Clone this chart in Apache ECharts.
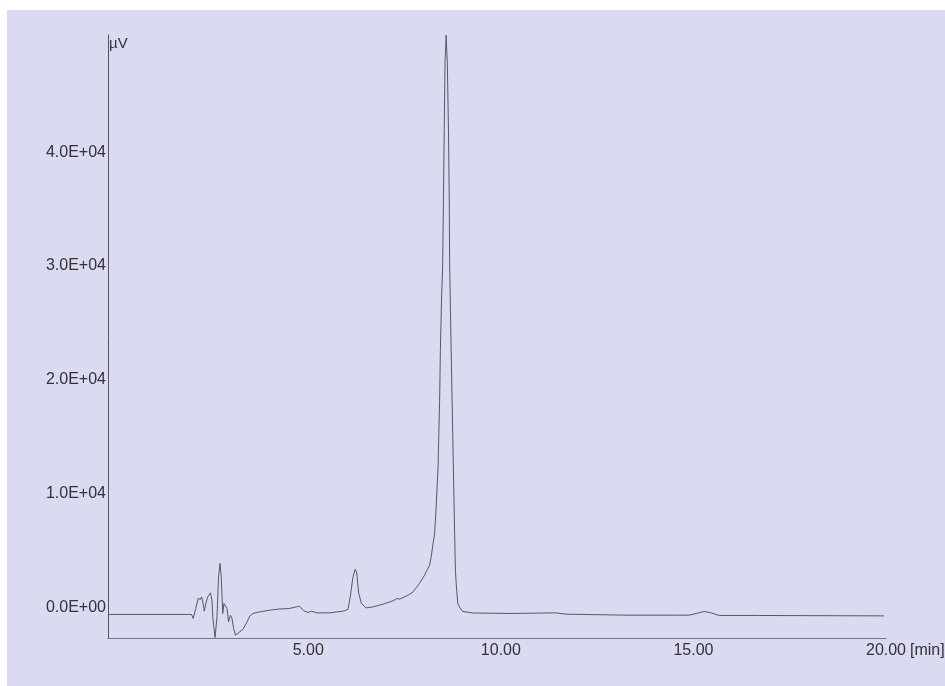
<!DOCTYPE html>
<html>
<head>
<meta charset="utf-8">
<script src="https://cdn.jsdelivr.net/npm/echarts@6/dist/echarts.min.js"></script>
<style>
html,body{margin:0;padding:0;background:#ffffff;width:945px;height:686px;overflow:hidden;}
#paper{position:absolute;left:7px;top:10px;right:0;bottom:0;background:#dadaf1;}
#chart{position:absolute;left:0;top:0;width:945px;height:686px;}
</style>
</head>
<body>
<div id="paper"></div>
<div id="chart"></div>
<script>
// Retention time [min]
const times = [
  -0.2, 1.97, 2.01, 2.08, 2.14, 2.16, 2.20, 2.23, 2.27, 2.30, 2.34, 2.39, 2.46, 2.50, 2.52, 2.58, 2.63, 2.67, 2.71, 2.74,
  2.78, 2.81, 2.85, 2.89, 2.93, 2.98, 3.02, 3.06, 3.11, 3.15, 3.22, 3.30, 3.39, 3.48, 3.56, 3.74, 4.00, 4.26, 4.51, 4.69,
  4.77, 4.88, 4.99, 5.09, 5.21, 5.55, 5.90, 6.03, 6.09, 6.16, 6.22, 6.26, 6.31, 6.38, 6.50, 6.68, 6.94, 7.20, 7.30, 7.32,
  7.37, 7.54, 7.71, 7.89, 8.02, 8.06, 8.15, 8.19, 8.28, 8.32, 8.37, 8.39, 8.41, 8.43, 8.46, 8.49, 8.51, 8.53, 8.55, 8.58,
  8.61, 8.64, 8.66, 8.67, 8.69, 8.70, 8.75, 8.80, 8.82, 8.84, 8.88, 8.93, 9.01, 9.06, 9.27, 10.22, 11.43, 11.69, 13.25, 14.46,
  14.89, 15.07, 15.28, 15.46, 15.67, 16.71, 19.95
];
// Detector signal [µV]
const signal = [
  -640, -640, -993, -114, 765, 905, 677, 905, 325, -352, 325, 905, 1257, 615, -853, -2664, -853, 2664, 3842, 2664,
  -554, 325, 466, -114, -1292, -703, -993, -1872, -2461, -2549, -2171, -1960, -1433, -791, -554, -413, -264, -160, -114, 26,
  88, -308, -466, -352, -501, -501, -352, -202, 905, 2664, 3341, 2963, 1204, 325, -62, 26, 264, 554, 765, 905,
  703, 967, 1292, 2110, 2813, 3103, 3692, 4422, 6479, 8817, 12334, 15270, 18197, 22593, 26988, 30241, 36043, 41933, 47823, 50285,
  47823, 41933, 36043, 30241, 26373, 24351, 15296, 6505, 3253, 2110, 352, 0, -378, -413, -510, -554, -501, -615, -703, -703,
  -703, -554, -378, -501, -730, -730, -765
];
const xTickValues = [5, 10, 15, 20];
const yTickValues = [0, 10000, 20000, 30000, 40000];
const yTickLabels = ['0.0E+00', '1.0E+04', '2.0E+04', '3.0E+04', '4.0E+04'];

const data = times.map((t, i) => [t, signal[i]]);

const chart = echarts.init(document.getElementById('chart'), null, {renderer: 'canvas'});
chart.setOption({
  backgroundColor: 'transparent',
  animation: false,
  grid: {left: 108, right: 59, top: 35, bottom: 48, containLabel: false},
  xAxis: {
    type: 'value', min: -0.2, max: 20,
    axisLine: {show: true, onZero: false, lineStyle: {color: '#6f7a80', width: 1.2}},
    axisTick: {show: false},
    splitLine: {show: false},
    axisLabel: {
      customValues: xTickValues,
      formatter: v => v.toFixed(2),
      color: '#333', fontSize: 16, fontFamily: 'Liberation Sans, Arial, sans-serif', margin: 5
    }
  },
  yAxis: {
    type: 'value', min: -2710, max: 50300,
    axisLine: {show: true, onZero: false, lineStyle: {color: '#555', width: 1}},
    axisTick: {show: false},
    splitLine: {show: false},
    axisLabel: {
      customValues: yTickValues,
      formatter: v => yTickLabels[yTickValues.indexOf(v)],
      color: '#333', fontSize: 16, fontFamily: 'Liberation Sans, Arial, sans-serif', margin: 2
    }
  },
  graphic: [
    {type: 'text', left: 109, top: 36, style: {text: 'µV', fill: '#333', font: '15px "Liberation Sans", Arial, sans-serif'}},
    {type: 'text', left: 910, top: 643, style: {text: '[min]', fill: '#333', font: '16px "Liberation Sans", Arial, sans-serif'}}
  ],
  series: [{
    type: 'line', data: data, showSymbol: false, symbol: 'none',
    lineStyle: {color: '#555a60', width: 1}, smooth: false
  }]
});
</script>
</body>
</html>
